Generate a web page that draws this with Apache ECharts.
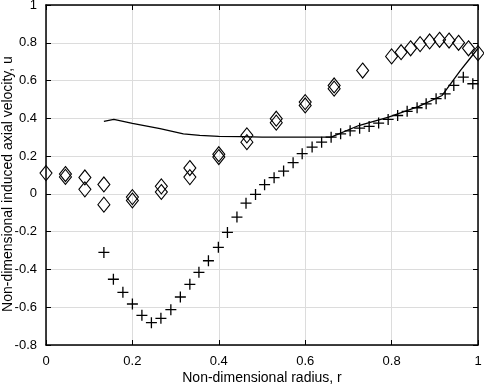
<!DOCTYPE html>
<html>
<head>
<meta charset="utf-8">
<script src="https://cdn.jsdelivr.net/npm/echarts@6/dist/echarts.min.js"></script>
<style>
  html, body { margin: 0; padding: 0; background: #fff; }
  #chart { width: 484px; height: 387px; }
</style>
</head>
<body>
<div id="chart"></div>
<script>
// diamonds (measured)
const diamondR = [0, 0.045, 0.045, 0.09, 0.09, 0.134, 0.134, 0.2, 0.2, 0.267, 0.267,
  0.333, 0.333, 0.4, 0.4, 0.465, 0.465, 0.533, 0.533, 0.6, 0.6, 0.667, 0.667, 0.733,
  0.8, 0.822, 0.844, 0.866, 0.888, 0.911, 0.933, 0.955, 0.978, 1.0];
const diamondU = [0.11, 0.105, 0.09, 0.087, 0.024, 0.05, -0.057, -0.017, -0.035, 0.04, 0.01,
  0.137, 0.089, 0.21, 0.195, 0.31, 0.274, 0.398, 0.377, 0.486, 0.468, 0.574, 0.557, 0.653,
  0.728, 0.75, 0.771, 0.793, 0.807, 0.816, 0.812, 0.8, 0.771, 0.745];

// plus markers
const plusR = [0.134, 0.156, 0.178, 0.2, 0.222, 0.244, 0.266, 0.289, 0.311, 0.333, 0.354,
  0.376, 0.399, 0.42, 0.442, 0.463, 0.485, 0.506, 0.528, 0.55, 0.572, 0.593, 0.616, 0.638,
  0.66, 0.682, 0.704, 0.726, 0.748, 0.77, 0.792, 0.814, 0.836, 0.859, 0.88, 0.903, 0.924,
  0.944, 0.966, 0.988];
const plusU = [-0.31, -0.452, -0.521, -0.583, -0.643, -0.682, -0.659, -0.613, -0.546, -0.479, -0.415,
  -0.354, -0.283, -0.204, -0.123, -0.049, -0.003, 0.049, 0.086, 0.121, 0.165, 0.213, 0.248, 0.274,
  0.3, 0.318, 0.334, 0.348, 0.357, 0.375, 0.394, 0.415, 0.437, 0.456, 0.477, 0.504, 0.53,
  0.574, 0.618, 0.583];

// solid line
const lineR = [0.134, 0.157, 0.2, 0.264, 0.318, 0.356, 0.4, 0.454, 0.5, 0.6, 0.66,
  0.724, 0.793, 0.863, 0.917, 0.959, 0.986, 1.0];
const lineU = [0.384, 0.394, 0.373, 0.345, 0.318, 0.31, 0.305, 0.303, 0.301, 0.3, 0.3,
  0.362, 0.406, 0.463, 0.521, 0.653, 0.73, 0.77];

const zip = (a, b) => a.map((v, i) => [v, b[i]]);

const font = 'Liberation Sans, Arial, Helvetica, sans-serif';
const gridLine = { show: true, lineStyle: { color: '#dcdcdc', width: 1 } };
const tick = { show: true, inside: true, length: 5, lineStyle: { color: '#000' } };
const axisLine = { show: true, onZero: false, lineStyle: { color: '#000', width: 1.5 } };

const chart = echarts.init(document.getElementById('chart'));
chart.setOption({
  animation: false,
  backgroundColor: '#fff',
  grid: { left: 46, right: 6, top: 5, bottom: 42, containLabel: false, outerBoundsMode: 'none' },
  xAxis: [{
    type: 'value', min: 0, max: 1, interval: 0.2,
    name: 'Non-dimensional radius, r', nameLocation: 'middle', nameGap: 26, nameMoveOverlap: false,
    nameTextStyle: { color: '#000', fontSize: 14, fontFamily: font },
    axisLine: axisLine, axisTick: tick, splitLine: gridLine,
    axisLabel: { color: '#000', fontSize: 13, fontFamily: font, margin: 10 }
  }, {
    type: 'value', position: 'top', min: 0, max: 1, interval: 0.2,
    axisLine: axisLine, axisTick: tick, splitLine: { show: false }, axisLabel: { show: false }
  }],
  yAxis: [{
    type: 'value', min: -0.8, max: 1, interval: 0.2,
    name: 'Non-dimensional induced axial velocity, u', nameLocation: 'middle', nameGap: 31, nameMoveOverlap: false,
    nameTextStyle: { color: '#000', fontSize: 14, fontFamily: font, padding: [0, 18, 0, 0] },
    axisLine: axisLine, axisTick: tick, splitLine: gridLine,
    axisLabel: { color: '#000', fontSize: 13, fontFamily: font, margin: 9,
      formatter: v => String(Math.round(v * 10) / 10) }
  }, {
    type: 'value', position: 'right', min: -0.8, max: 1, interval: 0.2,
    axisLine: axisLine, axisTick: tick, splitLine: { show: false }, axisLabel: { show: false }
  }],
  series: [{
    type: 'line', data: zip(lineR, lineU), showSymbol: false, smooth: false,
    lineStyle: { color: '#000', width: 1.3 }, z: 3
  }, {
    type: 'scatter', data: zip(diamondR, diamondU), symbol: 'diamond', symbolSize: [12, 15],
    itemStyle: { color: 'rgba(0,0,0,0)', borderColor: '#000', borderWidth: 1.1, opacity: 1 }, z: 4
  }, {
    type: 'scatter', data: zip(plusR, plusU), symbol: 'path://M0,5L10,5M5,0L5,10', symbolSize: 11,
    itemStyle: { color: 'rgba(0,0,0,0)', borderColor: '#000', borderWidth: 1.3, opacity: 1 }, z: 4
  }]
});
</script>
</body>
</html>
